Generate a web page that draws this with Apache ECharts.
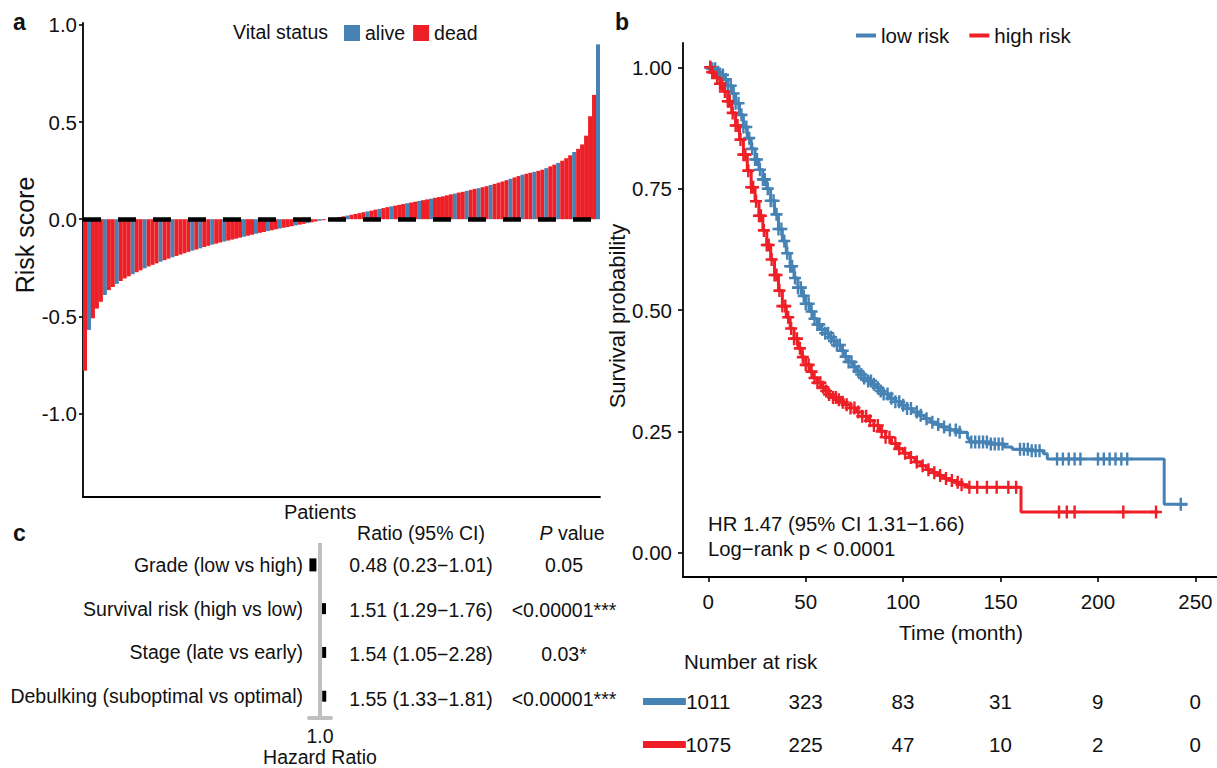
<!DOCTYPE html>
<html><head><meta charset="utf-8">
<script src="https://cdn.jsdelivr.net/npm/echarts@6/dist/echarts.min.js"></script>
<style>html,body{margin:0;padding:0;background:#fff}#c{width:1217px;height:768px}</style>
</head><body><div id="c"></div>
<script>
// ---------- Panel a data ----------
const riskScores = [
 -0.78,-0.57,-0.51,-0.46,-0.425,-0.39,-0.365,-0.349,-0.333,-0.318,
 -0.305,-0.294,-0.283,-0.273,-0.263,-0.253,-0.243,-0.235,-0.227,-0.219,
 -0.211,-0.203,-0.196,-0.189,-0.182,-0.175,-0.168,-0.162,-0.156,-0.150,
 -0.143,-0.137,-0.131,-0.126,-0.120,-0.115,-0.110,-0.105,-0.100,-0.095,
 -0.090,-0.085,-0.080,-0.075,-0.070,-0.066,-0.061,-0.057,-0.052,-0.048,
 -0.044,-0.040,-0.036,-0.032,-0.028,-0.024,-0.020,-0.016,-0.012,-0.008,
 -0.005,-0.001,0.003,0.007,0.011,0.015,0.019,0.023,0.027,0.031,
 0.036,0.040,0.044,0.049,0.053,0.057,0.062,0.066,0.070,0.074,
 0.078,0.082,0.086,0.090,0.094,0.098,0.102,0.106,0.110,0.114,
 0.118,0.123,0.128,0.132,0.137,0.141,0.146,0.151,0.156,0.160,
 0.165,0.170,0.176,0.182,0.188,0.194,0.201,0.208,0.215,0.222,
 0.229,0.234,0.239,0.244,0.249,0.255,0.263,0.272,0.281,0.290,
 0.301,0.314,0.329,0.346,0.362,0.385,0.43,0.53,0.64,0.90
];
// a = alive, d = dead
const vitalStatus = ('dadddaddad' + 'ddaddaddda' + 'ddaddddada' + 'ddaddadddd' + 'addaddadda' +
  'dddaddadda' + 'dddaddaddd' + 'daddaddadd' + 'daddaddadd' + 'dddaddadda' +
  'ddaddddadd' + 'addaddadda' + 'dddaddddda').split('');
const scoreTicks = [-1, -0.5, 0, 0.5, 1];
const statusNames = ['alive', 'dead'];

// ---------- Panel b data ----------
const kmLow = [
 [0,1.000],[2,0.997],[4,0.990],[6,0.984],[8,0.975],[10,0.962],[12,0.946],[14,0.926],[16,0.902],[18,0.877],
 [20,0.854],[22,0.832],[24,0.810],[26,0.789],[28,0.769],[30,0.750],[32,0.725],[34,0.697],[36,0.667],[38,0.642],
 [40,0.617],[42,0.590],[44,0.566],[46,0.546],[48,0.529],[50,0.513],[52,0.497],[54,0.482],[56,0.470],[58,0.460],
 [60,0.452],[62,0.444],[64,0.436],[66,0.428],[68,0.416],[70,0.404],[72,0.393],[74,0.383],[76,0.374],[78,0.367],
 [80,0.360],[82,0.354],[84,0.347],[86,0.340],[88,0.333],[90,0.327],[93,0.318],[96,0.311],[99,0.304],[102,0.297],
 [105,0.290],[108,0.283],[111,0.276],[114,0.269],[117,0.264],[120,0.259],[124,0.253],[128,0.248],[133,0.236],[134,0.228],
 [145,0.224],[152,0.218],[156,0.213],[166,0.210],[172,0.204],[174,0.193],[234,0.100],[246,0.100]
];
const kmHigh = [
 [0,1.000],[2,0.990],[4,0.978],[6,0.966],[8,0.950],[10,0.930],[12,0.906],[14,0.880],[16,0.851],[18,0.820],
 [20,0.787],[22,0.753],[24,0.724],[26,0.694],[28,0.664],[30,0.634],[32,0.604],[34,0.572],[36,0.540],[38,0.508],
 [40,0.485],[42,0.462],[44,0.441],[46,0.421],[48,0.403],[50,0.387],[52,0.373],[54,0.360],[56,0.350],[58,0.341],
 [60,0.333],[62,0.326],[64,0.320],[66,0.315],[68,0.310],[70,0.305],[73,0.298],[76,0.290],[79,0.281],[82,0.272],
 [85,0.262],[88,0.250],[91,0.238],[94,0.225],[97,0.214],[100,0.205],[103,0.196],[106,0.187],[109,0.179],[112,0.171],
 [115,0.165],[118,0.159],[121,0.153],[124,0.149],[127,0.145],[130,0.140],[133,0.135],[160.5,0.084],[231,0.084]
];
const censorLow = [1,2,3.5,5,6,7.5,9,10,11.5,13,14,15.5,17,18,19.5,21,22.5,24,25,26.5,28,29,30.5,32,33.5,35,36,37.5,39,40.5,
 42,43,44.5,46,47.5,49,50,51.5,53,54.5,56,57,58.5,60,61.5,63,64.5,66,67.5,69,70.5,72,73.5,75,77,78.5,80,82,83.5,85,
 87,88.5,90,92,94,96,98,100,102,104,107,109,112,115,118,121,124,127,129,135,137,139,141,143,145,147,149,151,160,162,
 164,166,168,170,179,182,185,188,191,200,203,206,209,212,215,242.5];
const censorHigh = [1,2,3,4.5,6,7,8.5,10,11,12.5,14,15,16.5,18,19,20.5,22,23,24.5,26,27,28.5,30,31,32.5,34,35,36.5,38,39.5,
 41,42.5,44,45.5,47,48.5,50,51.5,53,54.5,56,57.5,59,60.5,62,64,65.5,67,69,71,73,75,77,79,81,83,85,87,89,91,
 93,96,98,101,104,107,110,113,116,119,122,125,128,130,134,138,143,148,154,158,180,184,188,213,229.8];
const timeTicks = [0, 50, 100, 150, 200, 250];
const survTicks = [0, 0.25, 0.5, 0.75, 1];
const groupNames = ['low risk', 'high risk'];
const riskTimes = [0, 50, 100, 150, 200, 250];
const riskLow = [1011, 323, 83, 31, 9, 0];
const riskHigh = [1075, 225, 47, 10, 2, 0];
const hrText = 'HR 1.47 (95% CI 1.31\u22121.66)';
const logrankText = 'Log\u2212rank p < 0.0001';

// ---------- Panel c data ----------
const forestLabels = ['Grade (low vs high)', 'Survival risk (high vs low)', 'Stage (late vs early)', 'Debulking (suboptimal vs optimal)'];
const forestHR = [0.48, 1.51, 1.54, 1.55];
const forestLow = [0.23, 1.29, 1.05, 1.33];
const forestHigh = [1.01, 1.76, 2.28, 1.81];
const forestP = ['0.05', '<0.00001***', '0.03*', '<0.00001***'];

// ---------- styling ----------
const FONT = "'Liberation Sans', Arial, Helvetica, sans-serif";
const BLUE = '#4682B4', RED = '#EE1F26', INK = '#111', GREY = '#C0C0C0';
const forestBoxSize = [[7, 13], [4, 11], [4, 11], [4, 11]];
const riskSwatchSpan = [-33.5, -11.5];
const PLUS = 'path://M5,0h2.5v5h5v2.5h-5v5h-2.5v-5h-5v-2.5h5z';

function survAt(curve, t) {
  let s = curve[0][1];
  for (const p of curve) { if (p[0] <= t) s = p[1]; else break; }
  return s;
}
const ratioText = forestHR.map((h, i) => h.toFixed(2) + ' (' + forestLow[i].toFixed(2) + '\u2212' + forestHigh[i].toFixed(2) + ')');

function txt(text, x, y, size, align, extra) {
  return {
    type: 'text', x: x, y: y, silent: true,
    style: Object.assign({ text: text, fill: INK, fontSize: size, fontFamily: FONT,
      textAlign: align, align: align, textVerticalAlign: 'middle', verticalAlign: 'middle' }, extra || {})
  };
}

const axisBlack = { show: true, onZero: false, lineStyle: { color: '#000', width: 1.8 } };
const tickBlack = { show: true, length: 5, lineStyle: { color: '#000', width: 1.6 } };
const hidden = { color: 'rgba(0,0,0,0)', opacity: 1 };
const textLabel = (fmt, size) => ({ show: true, position: 'inside', formatter: fmt, fontSize: size, color: INK, opacity: 1 });

const chart = echarts.init(document.getElementById('c'), null, { renderer: 'svg' });
chart.setOption({
  animation: false,
  backgroundColor: '#fff',
  textStyle: { fontFamily: FONT, color: INK },
  grid: [
    { left: 83, top: 23, width: 517, height: 474 },   // a
    { left: 683, top: 43, width: 534, height: 534 },  // b
    { left: 309, top: 543, width: 22, height: 178 },  // c forest
    { left: 380, top: 543, width: 82, height: 178 },  // c ratio column
    { left: 524, top: 543, width: 80, height: 178 },  // c p column
    { left: 643, top: 680, width: 574, height: 86 }   // risk table
  ],
  legend: [
    { data: statusNames, left: 339, top: 18, icon: 'rect', itemWidth: 16, itemHeight: 16, itemGap: 8,
      textStyle: { fontSize: 19.5, color: INK, fontFamily: FONT }, selectedMode: false },
    { data: groupNames, left: 851, top: 20, icon: 'rect', itemWidth: 20, itemHeight: 4, itemGap: 20,
      textStyle: { fontSize: 20.5, color: INK, fontFamily: FONT }, selectedMode: false }
  ],
  xAxis: [
    { gridIndex: 0, type: 'category', data: riskScores.map((_, i) => i + 1), boundaryGap: true,
      axisLine: axisBlack, axisTick: { show: false }, axisLabel: { show: false }, splitLine: { show: false } },
    { gridIndex: 1, type: 'value', min: -13, max: 261.1,
      axisLine: axisBlack, axisTick: Object.assign({ customValues: timeTicks }, tickBlack),
      axisLabel: { customValues: timeTicks, fontSize: 20.5, color: INK, margin: 14 },
      splitLine: { show: false },
      name: 'Time (month)', nameLocation: 'middle', nameGap: 45,
      nameTextStyle: { fontSize: 21, color: INK, padding: [0, 0, 0, 22] } },
    { gridIndex: 2, type: 'log', logBase: Math.E, min: 0.32, max: 3.125,
      axisLine: { show: true, onZero: false, lineStyle: { color: GREY, width: 4 } },
      axisTick: { show: false }, splitLine: { show: false }, minorTick: { show: false },
      axisLabel: { customValues: [1], formatter: v => Number(v).toFixed(1), fontSize: 19.5, color: INK, margin: 8 },
      name: 'Hazard Ratio', nameLocation: 'middle', nameGap: 26, nameTextStyle: { fontSize: 19.5, color: INK } },
    { gridIndex: 3, type: 'value', min: -1, max: 1, show: false },
    { gridIndex: 4, type: 'value', min: -1, max: 1, show: false },
    { gridIndex: 5, type: 'value', min: -33.5, max: 261.2, show: false }
  ],
  yAxis: [
    { gridIndex: 0, type: 'value', min: -1.43, max: 1.01,
      axisLine: axisBlack, axisTick: Object.assign({ customValues: scoreTicks }, tickBlack, { length: 4 }),
      axisLabel: { customValues: scoreTicks, formatter: v => Number(v).toFixed(1), fontSize: 20.5, color: INK, margin: 6 },
      splitLine: { show: false },
      name: 'Risk score', nameLocation: 'middle', nameGap: 40,
      nameTextStyle: { fontSize: 25, color: INK, padding: [0, 0, 0, 50] } },
    { gridIndex: 1, type: 'value', min: -0.05, max: 1.05,
      axisLine: axisBlack, axisTick: Object.assign({ customValues: survTicks }, tickBlack),
      axisLabel: { customValues: survTicks, formatter: v => Number(v).toFixed(2), fontSize: 20.5, color: INK, margin: 11 },
      splitLine: { show: false },
      name: 'Survival probability', nameLocation: 'middle', nameGap: 49,
      nameTextStyle: { fontSize: 22, color: INK, padding: [0, 12, 0, 0] } },
    { gridIndex: 2, type: 'category', data: forestLabels, inverse: true,
      axisLine: { show: false }, axisTick: { show: false }, splitLine: { show: false },
      axisLabel: { fontSize: 19.5, color: INK, margin: 6 } },
    { gridIndex: 3, type: 'category', data: forestLabels, inverse: true, show: false },
    { gridIndex: 4, type: 'category', data: forestLabels, inverse: true, show: false },
    { gridIndex: 5, type: 'category', data: ['low', 'high'], inverse: true, show: false }
  ],
  series: [
    // ---- panel a
    { type: 'bar', xAxisIndex: 0, yAxisIndex: 0, barCategoryGap: '0%', silent: true,
      data: riskScores.map((v, i) => ({ value: v, itemStyle: { color: vitalStatus[i] === 'a' ? BLUE : RED } })),
      markLine: { silent: true, symbol: ['none', 'none'], label: { show: false },
        lineStyle: { color: '#000', width: 4.5, type: [18, 17] }, data: [{ yAxis: 0 }] } },
    { name: 'alive', type: 'scatter', xAxisIndex: 0, yAxisIndex: 0, data: [], itemStyle: { color: BLUE, opacity: 1 } },
    { name: 'dead', type: 'scatter', xAxisIndex: 0, yAxisIndex: 0, data: [], itemStyle: { color: RED, opacity: 1 } },
    // ---- panel b
    { name: 'low risk', type: 'line', xAxisIndex: 1, yAxisIndex: 1, step: 'end', showSymbol: false,
      data: kmLow, lineStyle: { color: BLUE, width: 3 }, itemStyle: { color: BLUE } },
    { name: 'low risk censor', type: 'scatter', xAxisIndex: 1, yAxisIndex: 1, symbol: PLUS, symbolSize: [12, 13],
      data: censorLow.map(t => [t, survAt(kmLow, t)]), itemStyle: { color: BLUE, opacity: 1 } },
    { name: 'high risk', type: 'line', xAxisIndex: 1, yAxisIndex: 1, step: 'end', showSymbol: false,
      data: kmHigh, lineStyle: { color: RED, width: 3 }, itemStyle: { color: RED } },
    { name: 'high risk censor', type: 'scatter', xAxisIndex: 1, yAxisIndex: 1, symbol: PLUS, symbolSize: [12, 13],
      data: censorHigh.map(t => [t, survAt(kmHigh, t)]), itemStyle: { color: RED, opacity: 1 } },
    // ---- risk table
    { type: 'line', xAxisIndex: 5, yAxisIndex: 5, showSymbol: false, silent: true,
      data: [[riskSwatchSpan[0], 'low'], [riskSwatchSpan[1], 'low']], lineStyle: { color: BLUE, width: 7 } },
    { type: 'line', xAxisIndex: 5, yAxisIndex: 5, showSymbol: false, silent: true,
      data: [[riskSwatchSpan[0], 'high'], [riskSwatchSpan[1], 'high']], lineStyle: { color: RED, width: 7 } },
    { type: 'scatter', xAxisIndex: 5, yAxisIndex: 5, symbolSize: 1, itemStyle: hidden, silent: true,
      data: riskTimes.map((t, i) => [t, 'low', riskLow[i]]),
      label: textLabel(p => String(p.value[2]), 20.5) },
    { type: 'scatter', xAxisIndex: 5, yAxisIndex: 5, symbolSize: 1, itemStyle: hidden, silent: true,
      data: riskTimes.map((t, i) => [t, 'high', riskHigh[i]]),
      label: textLabel(p => String(p.value[2]), 20.5) },
    // ---- panel c
    { type: 'scatter', xAxisIndex: 2, yAxisIndex: 2, symbol: 'rect', silent: true,
      data: forestHR.map((h, i) => ({ value: [h, i], symbolSize: forestBoxSize[i] })),
      itemStyle: { color: '#000', opacity: 1 },
      markLine: { silent: true, symbol: ['none', 'none'], label: { show: false },
        lineStyle: { color: GREY, width: 4, type: 'solid' }, data: [{ xAxis: 1 }] } },
    { type: 'scatter', xAxisIndex: 3, yAxisIndex: 3, symbolSize: 1, itemStyle: hidden, silent: true,
      data: forestLabels.map((_, i) => [0, i]),
      label: textLabel(p => ratioText[p.dataIndex], 19.5) },
    { type: 'scatter', xAxisIndex: 4, yAxisIndex: 4, symbolSize: 1, itemStyle: hidden, silent: true,
      data: forestLabels.map((_, i) => [0, i]),
      label: textLabel(p => forestP[p.dataIndex], 19.5) }
  ],
  graphic: [
    txt('a', 13, 22, 23, 'left', { fontWeight: 'bold' }),
    txt('b', 615, 22, 23, 'left', { fontWeight: 'bold' }),
    txt('c', 13, 533, 23, 'left', { fontWeight: 'bold' }),
    txt('Vital status', 233, 32, 19.5, 'left'),
    txt('Patients', 320, 512, 20, 'center'),
    txt('Ratio (95% CI)', 421, 533, 19.5, 'center'),
    txt('{i|P} value', 572, 533, 19.5, 'center',
        { rich: { i: { fontStyle: 'italic', fontSize: 19.5, fontFamily: FONT, fill: INK } } }),
    txt(hrText, 708, 524, 20.3, 'left'),
    txt(logrankText, 708, 549, 20.3, 'left'),
    txt('Number at risk', 684, 661, 20.5, 'left')
  ]
});
</script>
</body></html>
